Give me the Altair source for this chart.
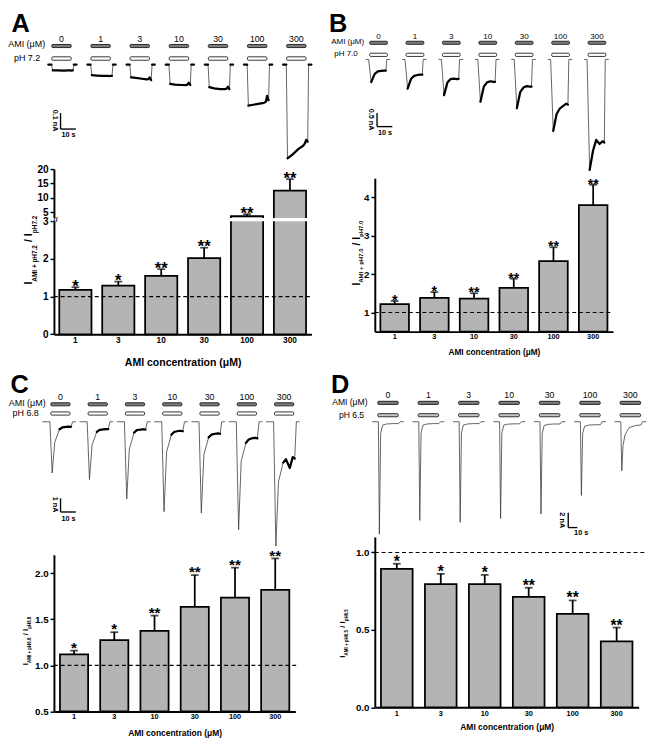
import altair as alt
import pandas as pd

S = 0.975
FONT = "Liberation Sans"


def P(v):
    return round(v * S, 2)


# ---------------- data ----------------
conc_trace = ["0", "1", "3", "10", "30", "100", "300"]
conc_bar = ["1", "3", "10", "30", "100", "300"]
x_title = "AMI concentration (μM)"

A_mean = [1.18, 1.29, 1.55, 2.02, 3.62, 12.5]
A_err = [1.25, 1.40, 1.73, 2.30, 4.31, 16.5]
A_sig = ["*", "*", "**", "**", "**", "**"]
B_mean = [1.22, 1.38, 1.36, 1.64, 2.34, 3.80]
B_err = [1.30, 1.53, 1.50, 1.88, 2.70, 4.33]
B_sig = ["*", "*", "**", "**", "**", "**"]
C_mean = [1.12, 1.275, 1.375, 1.635, 1.735, 1.82]
C_err = [1.16, 1.36, 1.54, 1.98, 2.06, 2.16]
C_sig = ["*", "*", "**", "**", "**", "**"]
D_mean = [0.894, 0.796, 0.796, 0.713, 0.603, 0.425]
D_err = [0.927, 0.862, 0.855, 0.772, 0.69, 0.515]
D_sig = ["*", "*", "*", "**", "**", "**"]

# current traces (time in s relative to onset/peak, current in nA)
A_time = [-2.1, 0.0, 0.8, 4.0, 8.0, 11.0, 12.2, 13.0, 14.0, 14.6, 16.4]
A_cur = {
    "0": [0, 0, -0.036, -0.036, -0.037, -0.036, -0.036, -0.037, -0.036, 0, 0],
    "1": [0, 0, -0.066, -0.068, -0.070, -0.070, -0.071, -0.070, -0.070, 0, 0],
    "3": [0, 0, -0.079, -0.082, -0.088, -0.092, -0.090, -0.080, -0.097, 0, 0],
    "10": [0, 0, -0.120, -0.125, -0.127, -0.128, -0.125, -0.112, -0.127, 0, 0],
    "30": [0, 0, -0.140, -0.148, -0.152, -0.153, -0.150, -0.138, -0.152, 0, 0],
    "100": [0, 0, -0.255, -0.250, -0.243, -0.238, -0.232, -0.195, -0.222, 0, 0],
    "300": [0, 0, -0.584, -0.560, -0.525, -0.505, -0.490, -0.468, -0.480, 0, 0],
}
B_time = [-3.6, -1.7, 0.0, 2.2, 4.3, 6.5, 8.5, 9.6, 10.2, 12.5]
B_cur = {
    "0": [0, 0, -0.83, -0.54, -0.44, -0.42, -0.41, -0.41, 0, 0],
    "1": [0, 0, -1.07, -0.72, -0.60, -0.57, -0.56, -0.56, 0, 0],
    "3": [0, 0, -1.31, -0.85, -0.72, -0.70, -0.72, -0.71, 0, 0],
    "10": [0, 0, -1.55, -1.00, -0.84, -0.80, -0.82, -0.82, 0, 0],
    "30": [0, 0, -1.79, -1.20, -1.03, -0.98, -1.00, -1.00, 0, 0],
    "100": [0, 0, -2.62, -2.00, -1.80, -1.70, -1.62, -1.66, 0, 0],
    "300": [0, 0, -4.05, -3.35, -2.95, -3.10, -3.00, -3.05, 0, 0],
}
C_time = [-6.4, -1.5, 0.0, 1.7, 4.8, 6.6, 9.1, 11.0, 12.3, 13.4, 15.5]
C_cur = {
    "0": [0, 0, -3.76, -1.50, -0.55, -0.42, -0.38, -0.36, -0.37, 0, 0],
    "1": [0, 0, -4.24, -1.70, -0.75, -0.60, -0.56, -0.55, -0.55, 0, 0],
    "3": [0, 0, -5.67, -2.00, -0.80, -0.62, -0.57, -0.55, -0.57, 0, 0],
    "10": [0, 0, -6.60, -2.20, -0.95, -0.75, -0.68, -0.66, -0.70, 0, 0],
    "30": [0, 0, -6.70, -2.40, -1.15, -0.95, -0.88, -0.85, -0.88, 0, 0],
    "100": [0, 0, -7.93, -2.90, -1.55, -1.30, -1.20, -1.18, -1.22, 0, 0],
    "300": [0, 0, -9.12, -4.40, -3.00, -2.75, -3.40, -2.60, -2.70, 0, 0],
}
D_time = [-8.0, -1.1, 0.0, 1.4, 3.5, 8.0, 15.0, 21.0, 23.0, 27.0]
D_cur = {
    "0": [0, 0, -15.1, -1.6, -0.45, -0.30, -0.25, -0.25, 0, 0],
    "1": [0, 0, -13.25, -1.5, -0.45, -0.30, -0.25, -0.25, 0, 0],
    "3": [0, 0, -13.5, -1.5, -0.45, -0.30, -0.25, -0.25, 0, 0],
    "10": [0, 0, -13.0, -1.5, -0.45, -0.32, -0.28, -0.28, 0, 0],
    "30": [0, 0, -12.4, -1.6, -0.50, -0.35, -0.30, -0.30, 0, 0],
    "100": [0, 0, -9.9, -1.6, -0.60, -0.45, -0.40, -0.40, 0, 0],
    "300": [0, 0, -6.6, -3.2, -1.80, -0.80, -0.50, -0.45, 0, 0],
}

# ---------------- layout (reference pixels) ----------------
TP = {
    "A": dict(x0=47.5, top=22, W=264.5, H=131.3, kt=1.57, ky=165, base=57, anchor=45, spacing=40.2,
              sol=(0.2, 12.9), gray_y=(36.3, 39.5), ph_y=(49.0, 52.5), lab_y=31.0, lab_size=9,
              ami=(38.5, 35.7), ph=(33.5, 50.7), ph_text="pH 7.2", row_size=9.2, letter=("A", 4, 24),
              sb=(54.3, 106.7, 0.1), sb_lbl=("0.1 nA", 48.5, 114.5), sb_t=(62.5, 129.5),
              thick=[(0, 1), (2, 8), (9, 10)], ph_fill="white"),
    "B": dict(x0=377, top=22, W=244.7, H=131.3, kt=1.57, ky=28, base=51.7, anchor=373.3, spacing=37.4,
              sol=(-1.0, 10.6), gray_y=(33.0, 36.2), ph_y=(45.3, 48.6), lab_y=28.3, lab_size=8.3,
              ami=(366, 33.5), ph=(359.5, 46.5), ph_text="pH 7.0", row_size=8.2, letter=("B", 330, 24),
              sb=(379.3, 106.7, 0.5), sb_lbl=("0.5 nA", 373.5, 113.5), sb_t=(387.5, 127),
              thick=[(2, 7)], ph_fill="white"),
    "C": dict(x0=47.5, top=343, W=248, H=185, kt=1.57, ky=14, base=422.3, anchor=45.7, spacing=38.3,
              sol=(-0.9, 11.7), gray_y=(402.8, 406.0), ph_y=(412.2, 415.5), lab_y=396.7, lab_size=9,
              ami=(39, 403.5), ph=(32, 413.2), ph_text="pH 6.8", row_size=9.2, letter=("C", 3, 393),
              sb=(54.3, 501, 1.0), sb_lbl=("1 nA", 48.5, 507.5), sb_t=(62.5, 522),
              thick=[(4, 8)], ph_fill="white"),
    "D": dict(x0=377, top=343, W=271, H=185, kt=0.93, ky=7.65, base=422.3, anchor=381.7, spacing=41.5,
              sol=(-1.8, 20.8), gray_y=(401.3, 404.5), ph_y=(414.0, 417.2), lab_y=395, lab_size=9,
              ami=(369.5, 402.5), ph=(366, 415.5), ph_text="pH 6.5", row_size=8.8, letter=("D", 332, 393),
              sb=(575.7, 515.7, 2.0), sb_lbl=("2 nA", 569.5, 523.5), sb_t=(589, 537),
              thick=[], ph_fill="#c4c4c4"),
}

BP = {
    "A": dict(x0=47.5, top=163.3, W=264.5, H=169.7, domain=[0, 3, 3.0001, 20], range=[333, 217, 213.5, 163.3],
              yvals=[0, 1, 2, 3, 5, 10, 15, 20], fmt="d", ylab=10.3, pi=0.25, xl=8.5, lp=1.5, tsize=10.8, tp=13.6,
              star=17, gap=5, base=0, ext=0, broken=True,
              yt=dict(xb=24.6, yb=282, m=11, s=6.6, sh=5, sub1="AMI + pH7.2", sub2="pH7.2")),
    "B": dict(x0=377, top=163.3, W=244.7, H=167, domain=[0.5, 4.5], range=[330.3, 172.7],
              yvals=[1, 2, 3, 4], fmt="d", ylab=10, pi=0.28, xl=7.5, lp=1, tsize=8.5, tp=7.7,
              star=14.5, gap=4, base=0.5, ext=0, broken=False,
              yt=dict(xb=361.3, yb=283, m=10.5, s=6.2, sh=3.5, sub1="AMI + pH7.0", sub2="pH7.0")),
    "C": dict(x0=47.5, top=538, W=248, H=181.3, domain=[0.5, 2.2], range=[719.3, 558.3],
              yvals=[0.5, 1.0, 1.5, 2.0], fmt=".1f", ylab=10, pi=0.3, xl=7.5, lp=1.5, tsize=8.7, tp=8,
              star=15.5, gap=6.5, base=0.5, ext=2, broken=False,
              yt=dict(xb=21.2, yb=671.7, m=8, s=4.6, sh=3, sub1="AMI + pH6.8", sub2="pH6.8")),
    "D": dict(x0=377, top=538, W=271, H=177, domain=[0, 1.1], range=[715, 540],
              yvals=[0, 0.5, 1.0], fmt=".1f", ylab=10, pi=0.28, xl=7.5, lp=2, tsize=8.7, tp=6.5,
              star=16, gap=6, base=0, ext=6, broken=False,
              yt=dict(xb=346.2, yb=664, m=8, s=4.6, sh=3, sub1="AMI + pH6.5", sub2="pH6.5")),
}

BOLD_W = {" ": 278, "+": 584, "/": 278, ".": 278, "A": 722, "M": 833, "I": 278, "H": 722, "p": 611}
for _d in "0123456789":
    BOLD_W[_d] = 556


def tw(s, size):
    return sum(BOLD_W.get(c, 556) for c in s) / 1000.0 * size


def one(**kw):
    return alt.Chart(pd.DataFrame({k: [v] for k, v in kw.items()}))


def text_at(txt, x, y, size, **kw):
    return one(t=txt).mark_text(fontSize=P(size), **kw).encode(
        x=alt.value(P(x)), y=alt.value(P(y)), text="t:N")


def trace_panel(p, times, cur):
    W, H = p["W"], p["H"]
    off = p["anchor"] - p["x0"]
    kt, ky = p["kt"], p["ky"]
    b = p["base"] - p["top"]
    slot = p["spacing"] / kt
    xs = alt.Scale(domain=[(0 - off) / kt, (W - off) / kt], nice=False, zero=False)
    ys = alt.Scale(domain=[(b - H) / ky, b / ky], nice=False, zero=False)

    def X(f):
        return alt.X(f, scale=xs, axis=None)

    def Y(f):
        return alt.Y(f, scale=ys, axis=None)

    thin, thick, sol = [], [], []
    for i, c in enumerate(conc_trace):
        vals = cur[c]
        for j, (t, v) in enumerate(zip(times, vals)):
            thin.append({"id": c, "t": t + i * slot, "I": v, "o": j})
        for k, (a, bb) in enumerate(p["thick"]):
            for j in range(a, bb + 1):
                thick.append({"id": f"{c}_{k}", "t": times[j] + i * slot, "I": vals[j], "o": j})
        s0, s1 = p["sol"]
        sol.append({"c": c, "s": s0 + i * slot, "e": s1 + i * slot, "m": (s0 + s1) / 2 + i * slot})

    layers = [
        alt.Chart(pd.DataFrame(thin)).mark_line(color="#3a3a3a", strokeWidth=P(0.8)).encode(
            x=X("t:Q"), y=Y("I:Q"), detail="id:N", order="o:Q")
    ]
    if thick:
        layers.append(alt.Chart(pd.DataFrame(thick)).mark_line(
            color="black", strokeWidth=P(2.3), strokeJoin="round", strokeCap="round").encode(
            x=X("t:Q"), y=Y("I:Q"), detail="id:N", order="o:Q"))
    sdf = pd.DataFrame(sol)
    top = p["top"]
    layers.append(alt.Chart(sdf).mark_rect(fill="#7c7c7c", stroke="black", strokeWidth=P(0.8),
                                           cornerRadius=1).encode(
        x=X("s:Q"), x2="e:Q", y=alt.value(P(p["gray_y"][0] - top)), y2=alt.value(P(p["gray_y"][1] - top))))
    layers.append(alt.Chart(sdf).mark_rect(fill=p["ph_fill"], stroke="black", strokeWidth=P(0.8),
                                           cornerRadius=1).encode(
        x=X("s:Q"), x2="e:Q", y=alt.value(P(p["ph_y"][0] - top)), y2=alt.value(P(p["ph_y"][1] - top))))
    layers.append(alt.Chart(sdf).mark_text(fontSize=P(p["lab_size"]), baseline="middle").encode(
        x=X("m:Q"), y=alt.value(P(p["lab_y"] - top)), text="c:N"))

    # scale bar
    sx, sy, amp = p["sb"]
    t_sb = (sx - p["anchor"]) / kt
    i_top = (p["base"] - sy) / ky
    sbd = pd.DataFrame({"t": [t_sb], "t2": [t_sb + 10], "i1": [i_top], "i2": [i_top - amp]})
    layers.append(alt.Chart(sbd).mark_rule(color="black", strokeWidth=P(1.4)).encode(
        x=X("t:Q"), y=Y("i1:Q"), y2="i2:Q"))
    layers.append(alt.Chart(sbd).mark_rule(color="black", strokeWidth=P(1.4)).encode(
        x=X("t:Q"), x2="t2:Q", y=Y("i2:Q")))

    x0 = p["x0"]
    lt, lx, ly = p["sb_lbl"]
    layers.append(text_at(lt, lx - x0, ly - top, 7.5, angle=90, align="center", baseline="middle",
                          fontWeight="bold"))
    layers.append(text_at("10 s", p["sb_t"][0] - x0, p["sb_t"][1] - top, 7.5, align="center",
                          baseline="middle", fontWeight="bold"))
    layers.append(text_at("AMI (μM)", p["ami"][0] - x0, p["ami"][1] - top, p["row_size"], align="right",
                          baseline="middle"))
    layers.append(text_at(p["ph_text"], p["ph"][0] - x0, p["ph"][1] - top, p["row_size"], align="right",
                          baseline="middle"))
    L, Lx, Ly = p["letter"]
    layers.append(text_at(L, Lx - x0, Ly - top, 26, align="left", baseline="alphabetic", fontWeight="bold"))
    return alt.layer(*layers).properties(width=P(W), height=P(H))


def bar_panel(pb, mean, err, sig):
    df = pd.DataFrame({"c": conc_bar, "m": mean, "e": err, "s": sig})
    top, x0, W, H = pb["top"], pb["x0"], pb["W"], pb["H"]
    ys = alt.Scale(domain=pb["domain"], range=[P(v - top) for v in pb["range"]], nice=False, zero=False)
    yaxis = alt.Axis(title=None, values=pb["yvals"], format=pb["fmt"], labelFontSize=P(pb["ylab"]),
                     labelFontWeight="bold", labelPadding=P(2), tickSize=P(4), tickWidth=P(1.5),
                     domainWidth=P(2), grid=False, labelOverlap=False, labelFlush=False, zindex=0)
    xaxis = alt.Axis(title=x_title, labelAngle=0, labelFontSize=P(pb["xl"]), labelFontWeight="bold",
                     labelPadding=P(pb["lp"]), ticks=False, tickSize=0, domainWidth=P(2),
                     titleFontSize=P(pb["tsize"]), titleFontWeight="bold", titlePadding=P(pb["tp"]),
                     grid=False, zindex=0)
    xs = alt.Scale(paddingInner=pb["pi"], paddingOuter=pb["pi"] / 2)
    Xe = alt.X("c:N", sort=conc_bar, scale=xs, axis=xaxis)

    def Y(f):
        return alt.Y(f, scale=ys, axis=yaxis)

    base = alt.Chart(df)
    sw = P(1.8)
    layers = [
        base.mark_bar(fill="#b4b4b4", stroke="black", strokeWidth=sw).encode(
            x=Xe, y=Y("m:Q"), y2=alt.datum(pb["base"])),
        alt.Chart(pd.DataFrame({"ref": [1.0]})).mark_rule(
            color="black", strokeDash=[P(4), P(3)], strokeWidth=P(1.1)).encode(
            y=Y("ref:Q"), x=alt.value(0), x2=alt.value(P(W + pb["ext"]))),
        base.mark_rule(color="black", strokeWidth=sw).encode(x=Xe, y=Y("m:Q"), y2="e:Q"),
        base.mark_tick(orient="horizontal", color="black", size=P(8), thickness=sw).encode(
            x=Xe, y=Y("e:Q")),
        base.mark_text(fontSize=P(pb["star"]), fontWeight="bold", baseline="alphabetic",
                       dy=P(0.57 * pb["star"] - pb["gap"])).encode(x=Xe, y=Y("e:Q"), text="s:N"),
    ]
    if pb["broken"]:
        layers.append(alt.Chart(pd.DataFrame({"lo": [3.0], "hi": [3.0001]})).mark_rect(fill="white").encode(
            y=Y("lo:Q"), y2="hi:Q", x=alt.value(-P(2)), x2=alt.value(P(W + 2))))
        layers.append(alt.Chart(pd.DataFrame({"mid": [3.00005], "t": ["//"]})).mark_text(
            fontSize=P(8), fontWeight="bold", align="center", baseline="middle").encode(
            y=Y("mid:Q"), x=alt.value(P(1.5)), text="t:N"))
    yt = pb["yt"]
    xb, yb = P(yt["xb"] - x0), P(yt["yb"] - top)
    pieces = [("I", yt["m"], 0, 0), (yt["sub1"], yt["s"], yt["sh"], 0),
              ("/ I", yt["m"], 0, tw(" ", yt["m"])), (yt["sub2"], yt["s"], yt["sh"], 0)]
    adv = 0.0
    for txt, size, sh, pre in pieces:
        adv += pre
        layers.append(one(t=txt).mark_text(angle=270, align="left", baseline="alphabetic",
                                           fontSize=P(size), fontWeight="bold", dx=P(adv), dy=P(sh)).encode(
            x=alt.value(xb), y=alt.value(yb), text="t:N"))
        adv += tw(txt, size)
    return alt.layer(*layers).properties(width=P(W), height=P(H))


tA = trace_panel(TP["A"], A_time, A_cur)
tB = trace_panel(TP["B"], B_time, B_cur)
tC = trace_panel(TP["C"], C_time, C_cur)
tD = trace_panel(TP["D"], D_time, D_cur)
bA = bar_panel(BP["A"], A_mean, A_err, A_sig)
bB = bar_panel(BP["B"], B_mean, B_err, B_sig)
bC = bar_panel(BP["C"], C_mean, C_err, C_sig)
bD = bar_panel(BP["D"], D_mean, D_err, D_sig)

chart = alt.concat(
    tA, tB, bA, bB, tC, tD, bC, bD,
    columns=2, spacing={"row": P(10), "column": P(65)}, bounds="flush", align="each",
).properties(padding={"top": 3, "left": 0, "right": 0, "bottom": 0}).configure(font=FONT).configure_view(
    stroke=None).configure_axis(
    labelColor="black", titleColor="black", domainColor="black", tickColor="black",
    labelFont=FONT, titleFont=FONT)

chart.save("out.html", embed_options={"renderer": "svg", "actions": False})
